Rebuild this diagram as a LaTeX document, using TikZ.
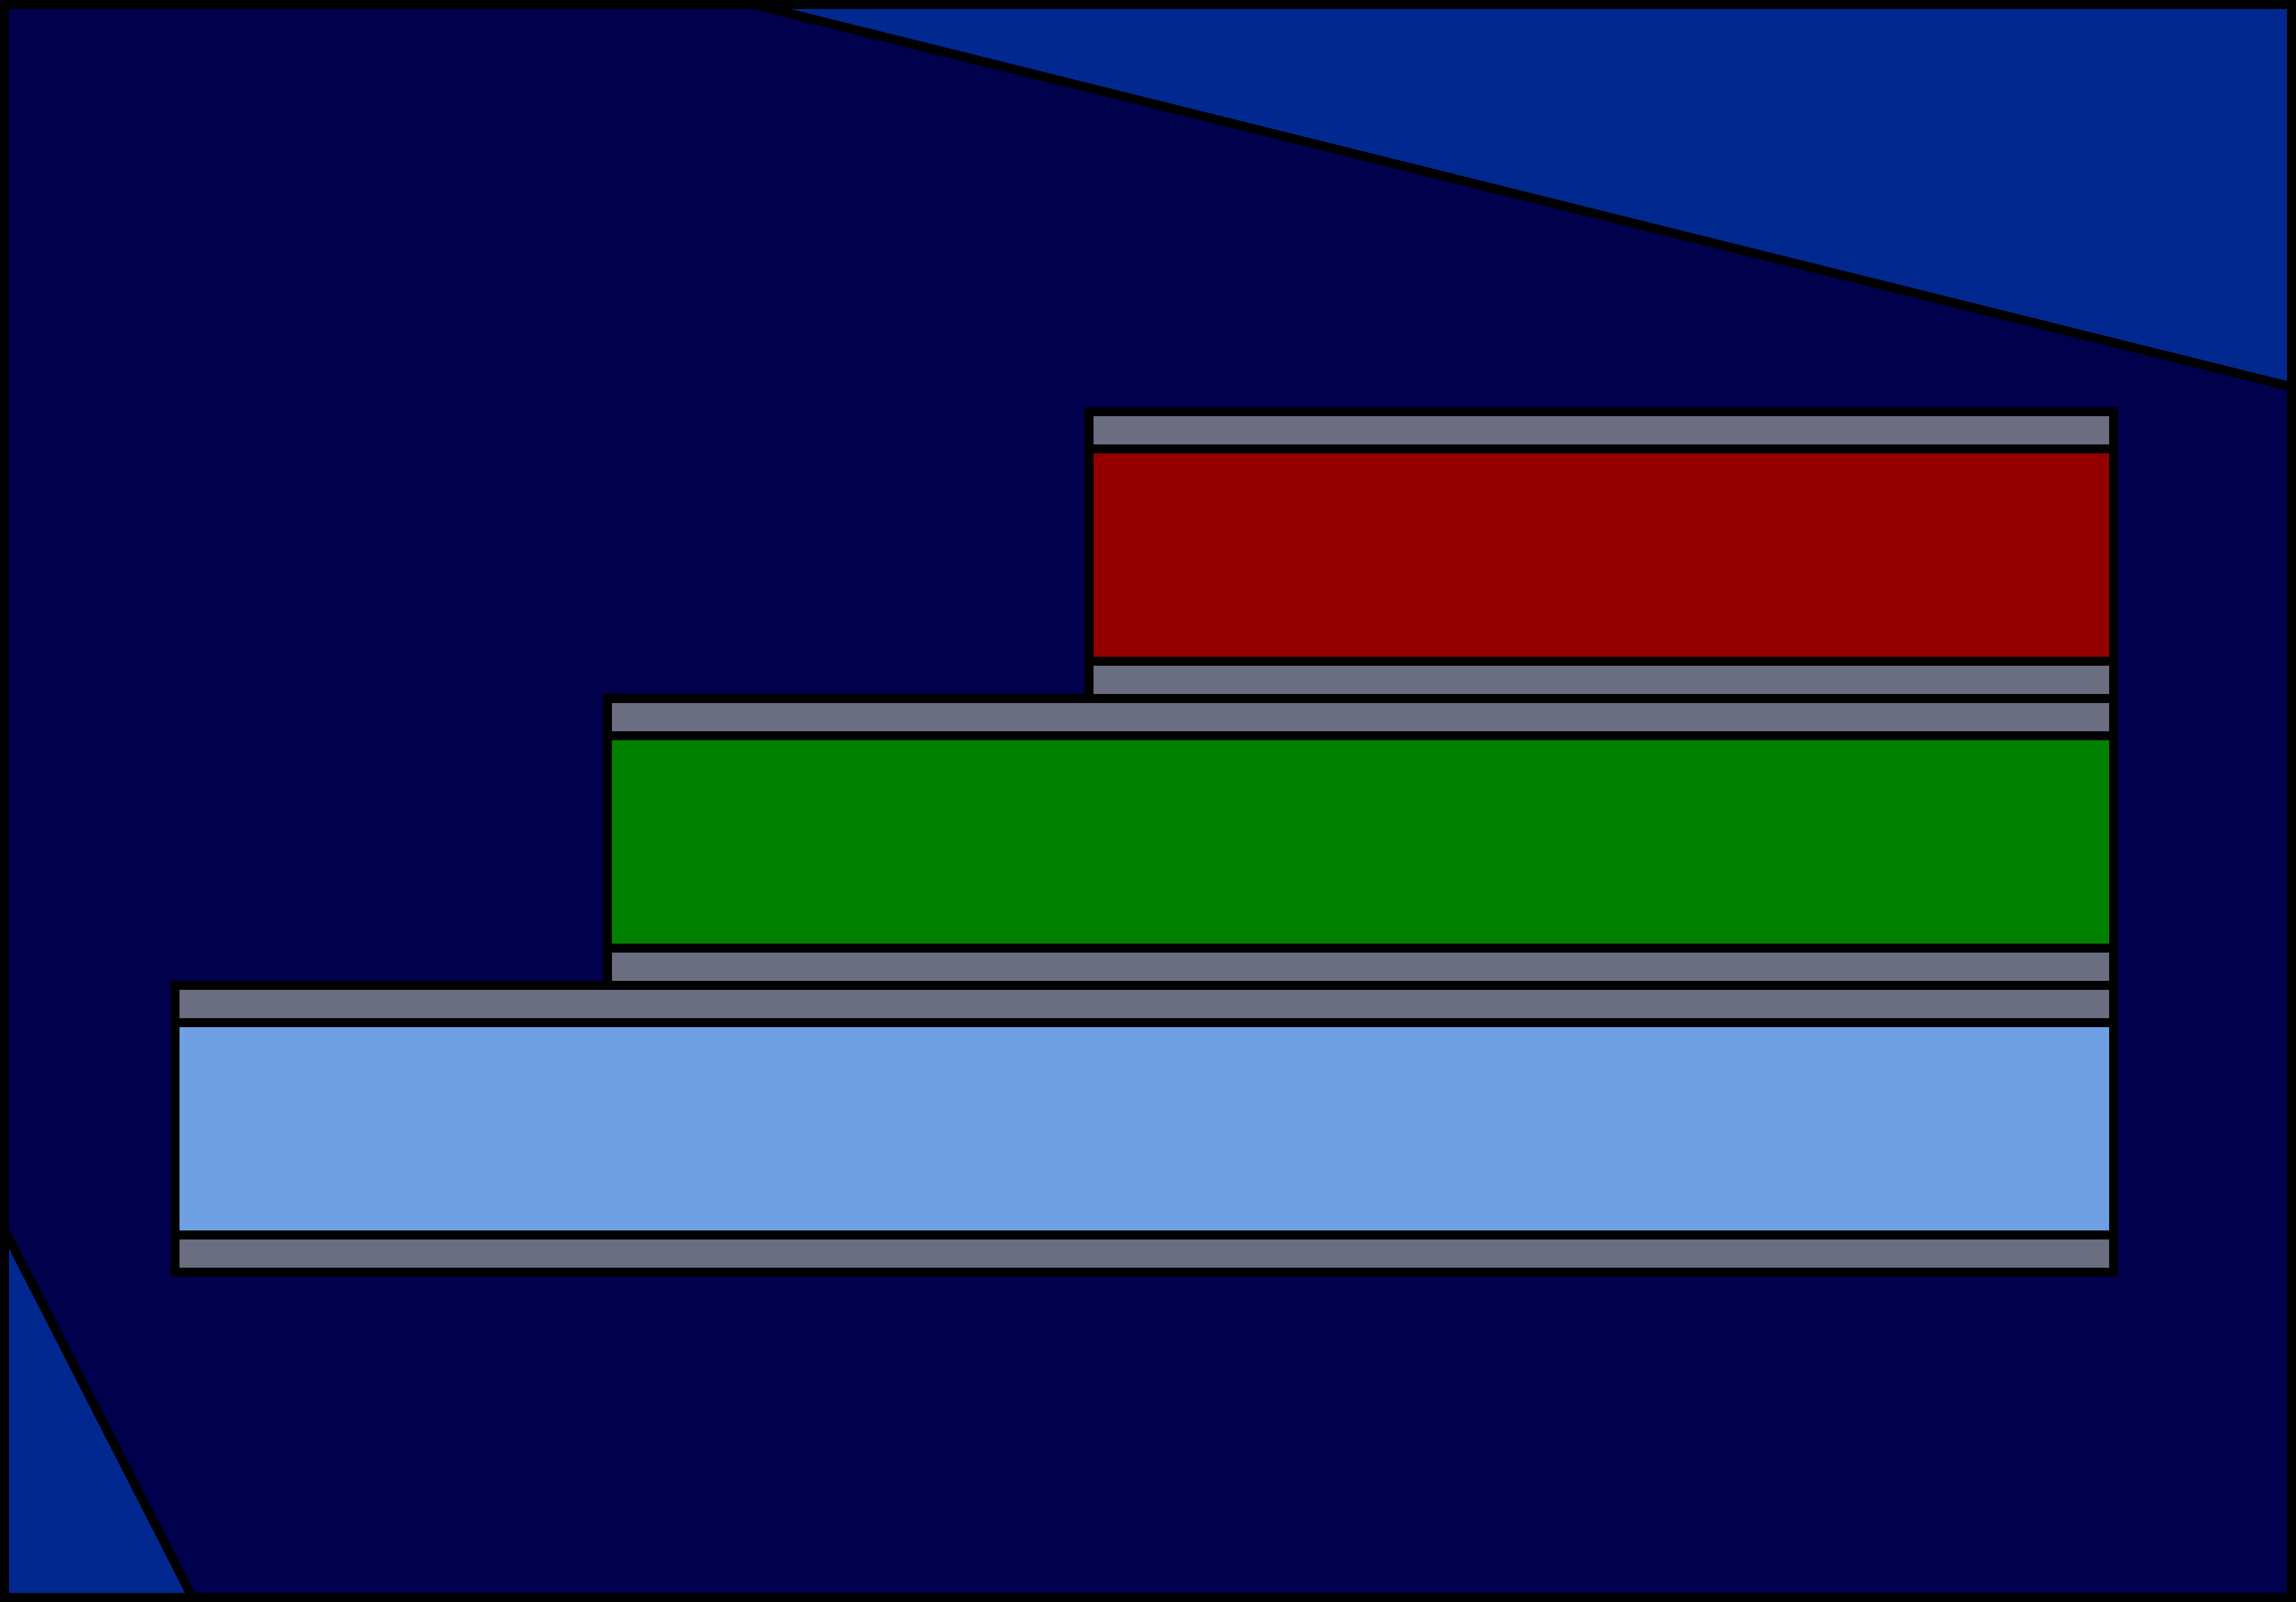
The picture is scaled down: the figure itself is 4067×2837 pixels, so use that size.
\documentclass[tikz,border=0pt]{standalone}
\definecolor{bgnavy}{RGB}{0,0,76}
\definecolor{tri}{RGB}{0,40,143}
\definecolor{strip}{RGB}{107,109,128}
\definecolor{lblue}{RGB}{111,160,227}
\definecolor{dred}{RGB}{148,0,0}
\definecolor{dgreen}{RGB}{0,130,0}
\tikzset{
  edge/.style={line width=0.16cm, draw=black, line join=miter},
  stripbox/.style={edge, fill=strip}
}
\newcommand\mystack[3]{% #1 left x, #2 top y, #3 colour
  \draw[stripbox] (#1,#2) rectangle (3744,#2+66);
  \draw[edge, fill=#3] (#1,#2+66) rectangle (3744,#2+442);
  \draw[stripbox] (#1,#2+442) rectangle (3744,#2+508);
}
\begin{document}
\begin{tikzpicture}[x=0.01cm,y=-0.01cm]
\useasboundingbox (0,0) rectangle (4067,2837);
\begin{scope}
\clip (0,0) rectangle (4067,2837);
\fill[bgnavy] (8,8) rectangle (4059,2829);
\fill[tri] (1335,8) -- (4059,8) -- (4059,685) -- cycle;
\fill[tri] (8,2178) -- (8,2829) -- (341,2829) -- cycle;
\draw[edge] (1335,8) -- (4059,685);
\draw[edge] (8,2178) -- (341,2829);
\draw[edge] (8,8) rectangle (4059,2829);
\end{scope}
\mystack{310}{1745}{lblue}
\mystack{1076}{1237}{dgreen}
\mystack{1929}{729}{dred}
\end{tikzpicture}
\end{document}
